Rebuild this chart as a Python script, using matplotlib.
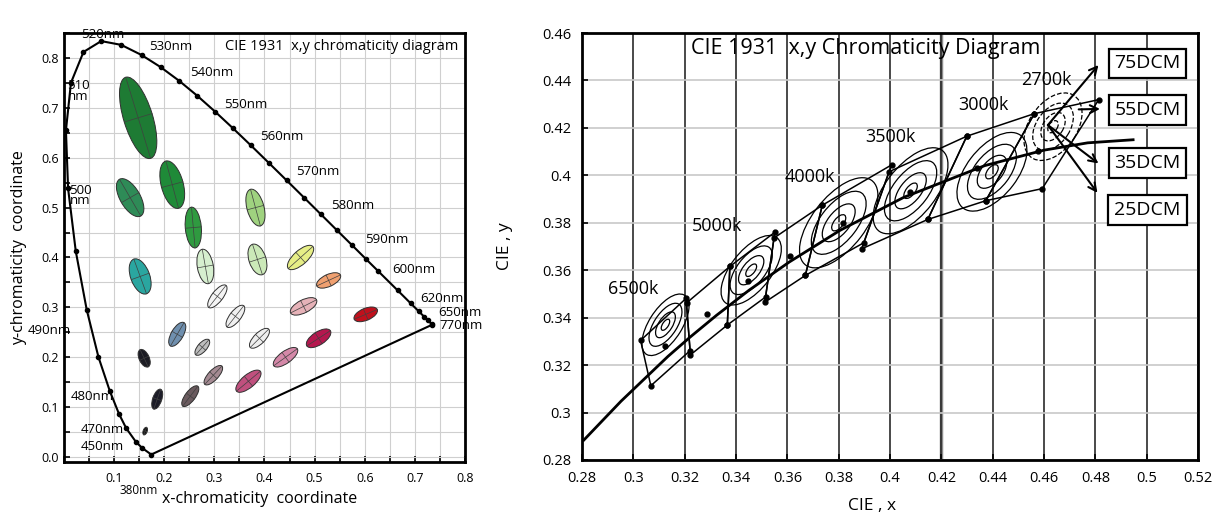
import matplotlib
matplotlib.use("Agg")
import matplotlib.pyplot as plt
import numpy as np
from matplotlib.patches import Ellipse, Polygon
from matplotlib.ticker import MultipleLocator, FormatStrFormatter

plt.rcParams['font.family'] = ['Open Sans', 'DejaVu Sans']

# ---- CIE 1931 spectral locus ----
wavelengths = [380, 450, 460, 470, 475, 480, 485, 490, 495, 500, 505, 510, 515,
               520, 525, 530, 535, 540, 545, 550, 555, 560, 565, 570, 575, 580,
               585, 590, 595, 600, 610, 620, 630, 640, 650, 680, 770]
locus_x = [0.1741, 0.1566, 0.1440, 0.1241, 0.1096, 0.0913, 0.0687, 0.0454, 0.0235,
           0.0082, 0.0039, 0.0139, 0.0389, 0.0743, 0.1142, 0.1547, 0.1929, 0.2296,
           0.2658, 0.3016, 0.3373, 0.3731, 0.4087, 0.4441, 0.4788, 0.5125, 0.5448,
           0.5752, 0.6029, 0.6270, 0.6658, 0.6915, 0.7079, 0.7190, 0.7260, 0.7334,
           0.7347]
locus_y = [0.0050, 0.0177, 0.0297, 0.0578, 0.0868, 0.1327, 0.2007, 0.2950, 0.4127,
           0.5384, 0.6548, 0.7502, 0.8120, 0.8338, 0.8262, 0.8059, 0.7816, 0.7543,
           0.7243, 0.6923, 0.6589, 0.6245, 0.5896, 0.5547, 0.5202, 0.4866, 0.4544,
           0.4242, 0.3965, 0.3725, 0.3340, 0.3083, 0.2920, 0.2809, 0.2740, 0.2666,
           0.2653]

wl_labels = ["520nm", "530nm", "540nm", "550nm", "560nm", "570nm", "580nm", "590nm",
             "600nm", "620nm", "650nm", "770nm", "510\nnm", "500\nnm", "490nm",
             "480nm", "470nm", "450nm", "380nm"]
wl_label_x = [0.078, 0.214, 0.294, 0.362, 0.434, 0.506, 0.576, 0.644, 0.698, 0.754,
              0.790, 0.792, 0.028, 0.032, -0.030, 0.056, 0.076, 0.076, 0.150]
wl_label_y = [0.848, 0.822, 0.770, 0.706, 0.642, 0.572, 0.504, 0.436, 0.376, 0.318,
              0.290, 0.264, 0.734, 0.524, 0.254, 0.122, 0.056, 0.022, -0.068]

# ---- MacAdam ellipses (centre, axes, tilt, fill) ----
mac_x = [0.148, 0.216, 0.132, 0.258, 0.382, 0.152, 0.282, 0.386, 0.472, 0.528, 0.478,
         0.602, 0.508, 0.442, 0.368, 0.306, 0.342, 0.390, 0.226, 0.276, 0.298, 0.252,
         0.160, 0.186, 0.162]
mac_y = [0.680, 0.546, 0.520, 0.460, 0.500, 0.362, 0.382, 0.396, 0.400, 0.354, 0.302,
         0.286, 0.238, 0.200, 0.152, 0.322, 0.282, 0.238, 0.246, 0.220, 0.164, 0.122,
         0.198, 0.116, 0.052]
mac_major = [0.170, 0.098, 0.085, 0.082, 0.076, 0.074, 0.070, 0.064, 0.066, 0.052, 0.058,
             0.050, 0.056, 0.058, 0.062, 0.056, 0.054, 0.052, 0.054, 0.040, 0.050, 0.050,
             0.038, 0.042, 0.016]
mac_minor = [0.058, 0.044, 0.040, 0.032, 0.034, 0.038, 0.032, 0.034, 0.028, 0.024, 0.026,
             0.024, 0.026, 0.024, 0.026, 0.022, 0.022, 0.022, 0.024, 0.018, 0.020, 0.020,
             0.020, 0.018, 0.008]
mac_angle = [107, 105, 120, 95, 105, 110, 100, 108, 42, 25, 27, 23, 33, 36, 40, 52, 52,
             45, 60, 49, 47, 53, 115, 71, 70]
mac_color = ['#1e7b34', '#1f8a38', '#2e8b57', '#2f9a40', '#9fd27f', '#2aa6a0', '#d6efcf',
             '#cbe9b8', '#e6ee86', '#f0a070', '#e6b2b8', '#c0101c', '#b5174e', '#d488a8',
             '#c0507e', '#f4f4f4', '#f0f0f0', '#eeeeee', '#6f8fae', '#bdbdbd', '#a48a92',
             '#6a5a5e', '#1c1c24', '#1c1c28', '#111111']

# ---- Planckian locus ----
planck_x = [0.2807, 0.2952, 0.3135, 0.3221, 0.3324, 0.3451, 0.3608, 0.3805, 0.4053,
            0.4369, 0.4599, 0.4770, 0.4947]
planck_y = [0.2884, 0.3048, 0.3237, 0.3318, 0.3410, 0.3516, 0.3635, 0.3768, 0.3907,
            0.4041, 0.4106, 0.4137, 0.4150]

# ---- ANSI C78.377 quadrangles ----
ansi_cct = [6500, 5700, 5000, 4500, 4000, 3500, 3000, 2700]
ansi_cx = [0.3123, 0.3287, 0.3447, 0.3611, 0.3818, 0.4078, 0.4339, 0.4578]
ansi_cy = [0.3282, 0.3417, 0.3553, 0.3658, 0.3797, 0.3930, 0.4033, 0.4101]
quad_x = [[0.3205, 0.3028, 0.3068, 0.3221],
          [0.3376, 0.3207, 0.3222, 0.3366],
          [0.3551, 0.3376, 0.3366, 0.3515],
          [0.3736, 0.3548, 0.3512, 0.3670],
          [0.4006, 0.3736, 0.3670, 0.3898],
          [0.4299, 0.3996, 0.3889, 0.4147],
          [0.4562, 0.4299, 0.4147, 0.4373],
          [0.4813, 0.4562, 0.4373, 0.4593]]
quad_y = [[0.3481, 0.3304, 0.3113, 0.3261],
          [0.3616, 0.3462, 0.3243, 0.3369],
          [0.3760, 0.3616, 0.3369, 0.3487],
          [0.3874, 0.3736, 0.3465, 0.3578],
          [0.4044, 0.3874, 0.3578, 0.3716],
          [0.4165, 0.4015, 0.3690, 0.3814],
          [0.4260, 0.4165, 0.3814, 0.3893],
          [0.4319, 0.4260, 0.3893, 0.3944]]

# ---- step ellipses around the nominal CCTs ----
cct_labels = ["6500k", "5000k", "4000k", "3500k", "3000k", "2700k"]
cct_label_x = [0.2999, 0.3326, 0.3688, 0.4000, 0.4362, 0.4611]
cct_label_y = [0.3520, 0.3787, 0.3993, 0.4162, 0.4297, 0.4400]
step_x = [0.3125, 0.3459, 0.3800, 0.4080, 0.4397, 0.4635]
step_y = [0.3370, 0.3600, 0.3800, 0.3935, 0.4015, 0.4205]
step_major = [0.029, 0.034, 0.044, 0.042, 0.038, 0.031]
step_minor = [0.013, 0.016, 0.021, 0.020, 0.020, 0.019]
step_angle = [60, 55, 55, 55, 55, 60]
step_scales = [0.18, 0.42, 0.7, 1.0]

dcm_labels = ["75DCM", "55DCM", "35DCM", "25DCM"]
dcm_x = 0.5003
dcm_y = [0.4472, 0.4276, 0.4052, 0.3854]
arrow_from = [(0.4615, 0.4212), (0.4735, 0.4278), (0.4615, 0.4212), (0.4615, 0.4212)]
arrow_to = [(0.4812, 0.4465), (0.4818, 0.4280), (0.4812, 0.4050), (0.4808, 0.3926)]

fig = plt.figure(figsize=(12.21, 5.19), dpi=100)

# ================= left: chromaticity diagram =================
ax1 = fig.add_axes([0.0524, 0.1098, 0.3284, 0.8266])
ax1.set_xlim(0, 0.8)
ax1.set_ylim(-0.01, 0.85)
ax1.xaxis.set_major_locator(MultipleLocator(0.1))
ax1.xaxis.set_minor_locator(MultipleLocator(0.05))
ax1.yaxis.set_major_locator(MultipleLocator(0.1))
ax1.yaxis.set_minor_locator(MultipleLocator(0.05))
ax1.xaxis.set_major_formatter(FormatStrFormatter('%.1f'))
ax1.yaxis.set_major_formatter(FormatStrFormatter('%.1f'))
ax1.set_xticks([0.1, 0.2, 0.3, 0.4, 0.5, 0.6, 0.7, 0.8])
ax1.grid(which='both', color='#cfcfcf', lw=0.8)
ax1.set_axisbelow(True)
ax1.tick_params(which='both', direction='in', length=4, width=1.2, labelsize=9)
ax1.tick_params(axis='x', pad=7)
for s in ax1.spines.values():
    s.set_linewidth(2)

ax1.plot(locus_x, locus_y, color='black', lw=1.5, zorder=3)
ax1.plot([locus_x[0], locus_x[-1]], [locus_y[0], locus_y[-1]], color='black', lw=1.5, zorder=3)
ax1.plot(locus_x, locus_y, 'o', color='black', ms=3, zorder=4)

for lab, lx, ly in zip(wl_labels, wl_label_x, wl_label_y):
    fs = 8.5 if lab == "380nm" else 9.5
    ax1.text(lx, ly, lab, fontsize=fs, ha='center', va='center', linespacing=0.75,
             clip_on=False, zorder=5)

for x, y, w, h, a, c in zip(mac_x, mac_y, mac_major, mac_minor, mac_angle, mac_color):
    ax1.add_patch(Ellipse((x, y), w, h, angle=a, fc=c, ec='#303030', lw=0.7, zorder=2))
    t = np.radians(a)
    ax1.plot([x - w / 2 * np.cos(t), x + w / 2 * np.cos(t)],
             [y - w / 2 * np.sin(t), y + w / 2 * np.sin(t)], color='#404040', lw=0.5, zorder=2)
    ax1.plot([x + h / 2 * np.sin(t), x - h / 2 * np.sin(t)],
             [y - h / 2 * np.cos(t), y + h / 2 * np.cos(t)], color='#404040', lw=0.5, zorder=2)

ax1.text(0.786, 0.822, "CIE 1931  x,y chromaticity diagram", fontsize=10.5,
         ha='right', va='center', zorder=5)
ax1.set_xlabel("x-chromaticity  coordinate", fontsize=11.5)
ax1.set_ylabel("y-chromaticity  coordinate", fontsize=11.5)
ax1.xaxis.set_label_coords(0.489, -0.068)
ax1.yaxis.set_label_coords(-0.092, 0.5)

# ================= right: white-light bins =================
ax2 = fig.add_axes([0.4767, 0.1137, 0.5045, 0.8227])
ax2.set_xlim(0.28, 0.52)
ax2.set_ylim(0.28, 0.46)
ax2.xaxis.set_major_locator(MultipleLocator(0.02))
ax2.yaxis.set_major_locator(MultipleLocator(0.02))
ax2.xaxis.set_major_formatter(FormatStrFormatter('%g'))
ax2.yaxis.set_major_formatter(FormatStrFormatter('%g'))
ax2.grid(axis='x', color='#2a2a2a', lw=1.2)
ax2.grid(axis='y', color='#c8c8c8', lw=1.2)
ax2.axvline(0.42, color='#8c8c8c', lw=2.5, zorder=0.5)
ax2.set_axisbelow(True)
ax2.tick_params(direction='in', length=4, width=1.2, labelsize=10.5, pad=8)
for s in ax2.spines.values():
    s.set_linewidth(2)

ax2.plot(planck_x, planck_y, color='black', lw=2, zorder=3)

for qx, qy in zip(quad_x, quad_y):
    ax2.add_patch(Polygon(np.column_stack([qx, qy]), closed=True, fill=False,
                          ec='black', lw=1.1, zorder=3))
    ax2.plot(qx, qy, 'o', color='black', ms=3.5, zorder=4)
ax2.plot(ansi_cx, ansi_cy, 'o', color='black', ms=3.5, zorder=4)

for i, (x, y, w, h, a) in enumerate(zip(step_x, step_y, step_major, step_minor, step_angle)):
    ls = '--' if i == len(step_x) - 1 else '-'
    for k in step_scales:
        ax2.add_patch(Ellipse((x, y), w * k, h * k, angle=a, fill=False,
                              ec='black', lw=0.9, ls=ls, zorder=3))

for lab, lx, ly in zip(cct_labels, cct_label_x, cct_label_y):
    ax2.text(lx, ly, lab, fontsize=13, ha='center', va='center', zorder=5)

for lab, y in zip(dcm_labels, dcm_y):
    ax2.text(dcm_x, y, lab, fontsize=14, ha='center', va='center', zorder=6,
             bbox=dict(boxstyle='square,pad=0.3', fc='white', ec='black', lw=1.6))

for (x0, y0), (x1, y1) in zip(arrow_from, arrow_to):
    ax2.annotate("", xy=(x1, y1), xytext=(x0, y0),
                 arrowprops=dict(arrowstyle='->', color='black', lw=1.5,
                                 shrinkA=0, shrinkB=0, mutation_scale=14), zorder=5)

ax2.text(0.3906, 0.4535, "CIE 1931  x,y Chromaticity Diagram", fontsize=15.5,
         ha='center', va='center', zorder=5)
ax2.set_xlabel("CIE , x", fontsize=12.5)
ax2.set_ylabel("CIE , y", fontsize=12.5)
ax2.xaxis.set_label_coords(0.47, -0.09)
ax2.yaxis.set_label_coords(-0.112, 0.5)

fig.savefig("out.png", dpi=100, facecolor='white')
